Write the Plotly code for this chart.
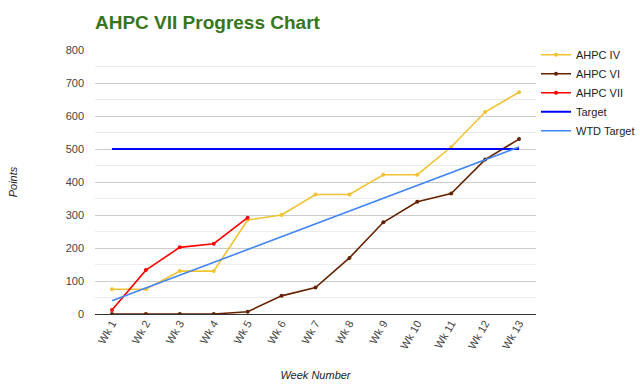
import plotly.graph_objects as go

weeks = ["Wk 1", "Wk 2", "Wk 3", "Wk 4", "Wk 5", "Wk 6", "Wk 7", "Wk 8", "Wk 9", "Wk 10", "Wk 11", "Wk 12", "Wk 13"]
ahpc_iv = [75, 75, 130, 130, 285, 300, 362, 362, 422, 422, 506, 612, 672]
ahpc_vi = [0, 0, 0, 0, 7, 55, 80, 170, 278, 340, 365, 468, 530]
ahpc_vii = [12, 133, 202, 213, 292]
target = [500] * 13
wtd_target = [40, 79, 118, 156, 195, 234, 273, 312, 351, 390, 428, 467, 506]

FONT = "Liberation Sans, Arial, sans-serif"

fig = go.Figure()
fig.add_trace(go.Scatter(x=weeks, y=ahpc_iv, name="AHPC IV", mode="lines+markers",
                         line=dict(color="#f1c232", width=1.6), marker=dict(size=4, color="#f1c232")))
fig.add_trace(go.Scatter(x=weeks, y=ahpc_vi, name="AHPC VI", mode="lines+markers",
                         line=dict(color="#662200", width=1.6), marker=dict(size=4, color="#662200")))
fig.add_trace(go.Scatter(x=weeks[:len(ahpc_vii)], y=ahpc_vii, name="AHPC VII", mode="lines+markers",
                         line=dict(color="#ff0000", width=1.6), marker=dict(size=4, color="#ff0000")))
fig.add_trace(go.Scatter(x=weeks, y=target, name="Target", mode="lines",
                         line=dict(color="#0000ff", width=2)))
fig.add_trace(go.Scatter(x=weeks, y=wtd_target, name="WTD Target", mode="lines",
                         line=dict(color="#4285f4", width=1.6)))

fig.update_layout(
    width=640, height=385,
    margin=dict(l=95, r=104, t=50, b=71, autoexpand=False),
    paper_bgcolor="white", plot_bgcolor="white",
    font=dict(family=FONT, color="#444", size=11),
    title=dict(text="<b>AHPC VII Progress Chart</b>", x=95/640, xanchor="left", xref="container",
               y=1 - 22/385, yanchor="middle", yref="container",
               font=dict(family=FONT, size=19, color="#38761d")),
    showlegend=True,
    legend=dict(x=1.0, xanchor="left", y=1.037, yanchor="top", itemwidth=30,
                font=dict(family=FONT, size=11, color="#222"), tracegroupgap=0,
                bgcolor="rgba(0,0,0,0)"),
    xaxis=dict(type="category", range=[-0.5, len(weeks) - 0.5], tickangle=-60, showgrid=False,
               zeroline=False, automargin=False,
               showline=False, ticks="", tickfont=dict(size=11, color="#444"),
               title=dict(text="<i>Week Number</i>", font=dict(size=11, color="#222"), standoff=21)),
    yaxis=dict(range=[0, 800], dtick=100, showgrid=True, gridcolor="#cccccc", gridwidth=1,
               minor=dict(dtick=50, showgrid=True, gridcolor="#ebebeb"), automargin=False,
               zeroline=True, zerolinecolor="#333333", zerolinewidth=1,
               ticks="", tickfont=dict(size=11, color="#444"), ticklabelstandoff=10,
               title=dict(text="<i>Points</i>", font=dict(size=11, color="#222"), standoff=45)),
)

fig.write_html("out.html", config={"displayModeBar": False},
               post_script="document.body.style.margin='0';")
